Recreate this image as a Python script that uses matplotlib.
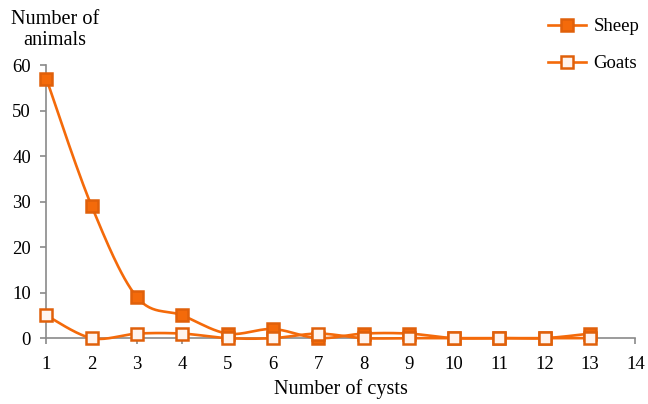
import numpy as np
import matplotlib
matplotlib.use("Agg")
import matplotlib.pyplot as plt
from matplotlib.lines import Line2D

cysts = [1, 2, 3, 4, 5, 6, 7, 8, 9, 10, 11, 12, 13]
sheep = [57, 29, 9, 5, 1, 2, 0, 1, 1, 0, 0, 0, 1]
goats = [5, 0, 1, 1, 0, 0, 1, 0, 0, 0, 0, 0, 0]
xticks = list(range(1, 15))
yticks = [0, 10, 20, 30, 40, 50, 60]

ORANGE = "#F46A0A"
EDGE = "#E0600A"

plt.rcParams['font.family'] = ['Liberation Serif', 'DejaVu Serif']


def smooth(x, y, n=30):
    """Excel-like smoothed line through points (Catmull-Rom via Bezier)."""
    x = np.asarray(x, float)
    y = np.asarray(y, float)
    px = np.concatenate([[x[0]], x, [x[-1]]])
    py = np.concatenate([[y[0]], y, [y[-1]]])
    xs, ys = [], []
    t = np.linspace(0, 1, n)
    for i in range(1, len(px) - 2):
        p0 = np.array([px[i], py[i]])
        p3 = np.array([px[i + 1], py[i + 1]])
        p1 = p0 + (np.array([px[i + 1], py[i + 1]]) - np.array([px[i - 1], py[i - 1]])) / 6
        p2 = p3 - (np.array([px[i + 2], py[i + 2]]) - np.array([px[i], py[i]])) / 6
        b = ((1 - t) ** 3)[:, None] * p0 + (3 * (1 - t) ** 2 * t)[:, None] * p1 + \
            (3 * (1 - t) * t ** 2)[:, None] * p2 + (t ** 3)[:, None] * p3
        xs.extend(b[:, 0])
        ys.extend(b[:, 1])
    return np.array(xs), np.array(ys)


fig = plt.figure(figsize=(6.48, 4.04), dpi=100)
ax = fig.add_axes([0.0715, 0.163, 0.909, 0.676])

for k, (vals, face) in enumerate([(sheep, ORANGE), (goats, "#FFF4EE")]):
    sx, sy = smooth(cysts, vals)
    ax.plot(sx, sy, color=ORANGE, lw=1.9, zorder=3 + 2 * k, clip_on=False)
    ax.plot(cysts, vals, ls="none", marker="s", ms=8.8, mfc=face, mec=EDGE,
            mew=1.8, zorder=4 + 2 * k, clip_on=False)

ax.set_xlim(1, 14)
ax.set_ylim(0, 60)
ax.set_xticks(xticks)
ax.set_yticks(yticks)
for s in ["top", "right"]:
    ax.spines[s].set_visible(False)
for s in ["left", "bottom"]:
    ax.spines[s].set_color("#8a8a8a")
    ax.spines[s].set_linewidth(1.2)
ax.tick_params(axis="both", colors="#8a8a8a", length=4, width=1.2, labelsize=13.5,
               labelcolor="black", direction="out")
ax.tick_params(axis="x", pad=9)
ax.tick_params(axis="y", pad=7)

ax.set_xlabel("Number of cysts", fontsize=14.6, labelpad=4)
fig.text(0.085, 0.925, "Number of\nanimals", ha="center", va="center",
         fontsize=14.6, linespacing=1.15)

handles = [
    Line2D([], [], color=ORANGE, lw=1.9, marker="s", ms=8.8, mfc=ORANGE, mec=EDGE, mew=1.8),
    Line2D([], [], color=ORANGE, lw=1.9, marker="s", ms=8.8, mfc="#FFF4EE", mec=EDGE, mew=1.8),
]
fig.legend(handles, ["Sheep", "Goats"], loc="upper left",
           bbox_to_anchor=(548 / 648, 1 - 18 / 404),
           frameon=False, fontsize=13.5, handlelength=2.0, labelspacing=1.08,
           handletextpad=0.43, borderpad=0, borderaxespad=0)

fig.savefig("out.png", dpi=100)
